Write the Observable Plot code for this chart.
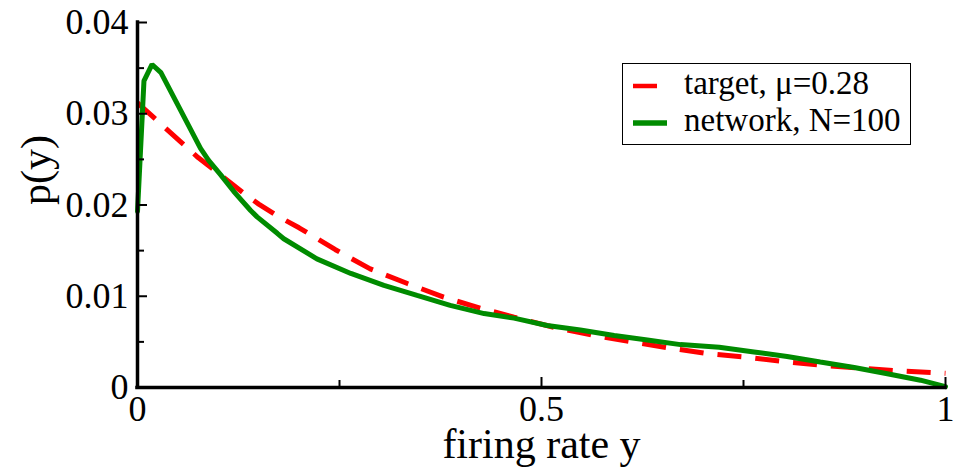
<!DOCTYPE html>
<html><head><meta charset="utf-8">
<script src="https://cdn.jsdelivr.net/npm/d3@7"></script>
<script src="https://cdn.jsdelivr.net/npm/@observablehq/plot@0.6"></script>
<style>
body{margin:0;background:#fff;}
#wrap{position:relative;width:963px;height:469px;font-family:"Liberation Serif",serif;}
#legend{position:absolute;left:622px;top:63px;width:287px;height:80px;border:1.5px solid #000;background:#fff;}
.lg-row{position:absolute;left:0;height:40px;width:287px;}
.lg-row svg{position:absolute;left:0;top:0;}
.lg-row span{position:absolute;left:61px;font-size:33px;line-height:33px;white-space:nowrap;color:#000;}
</style></head><body><div id="wrap"></div>
<script>
// ---- data ----
const targetX = [0, 0.02, 0.05, 0.075, 0.1, 0.134, 0.15, 0.175, 0.2, 0.245, 0.288, 0.334, 0.379, 0.424, 0.466, 0.515, 0.565, 0.612, 0.66, 0.707, 0.755, 0.804, 0.851, 0.899, 0.946, 1.0];
const targetY = [0.0312, 0.0296, 0.0272, 0.0252, 0.0235, 0.0211, 0.0201, 0.0187, 0.0175, 0.0151, 0.0130, 0.0114, 0.0099, 0.0087, 0.0077, 0.0066, 0.0057, 0.0050, 0.0043, 0.0037, 0.0033, 0.0028, 0.0024, 0.0021, 0.0018, 0.00155];
const networkX = [0, 0.008, 0.018, 0.029, 0.078, 0.088, 0.103, 0.119, 0.14, 0.148, 0.173, 0.181, 0.222, 0.264, 0.305, 0.346, 0.387, 0.429, 0.466, 0.507, 0.548, 0.59, 0.631, 0.672, 0.72, 0.763, 0.804, 0.845, 0.887, 0.928, 0.969, 1.0];
const networkY = [0.0193, 0.0336, 0.0354, 0.0345, 0.0262, 0.0249, 0.0233, 0.0215, 0.0194, 0.0187, 0.0169, 0.0163, 0.0141, 0.0125, 0.0112, 0.0101, 0.0090, 0.0081, 0.0076, 0.0068, 0.0063, 0.0057, 0.0052, 0.0047, 0.0044, 0.0039, 0.0034, 0.0028, 0.0022, 0.0015, 0.0008, 0.0001];
const seriesNames = ["target, \u03bc=0.28", "network, N=100"];
const seriesColors = ["#ff0000", "#008b00"];
const xTicks = [0, 0.5, 1];
const xTickLabels = ["0", "0.5", "1"];
const xMinor = [0.25, 0.75];
const yTicks = [0, 0.01, 0.02, 0.03, 0.04];
const yTickLabels = ["0", "0.01", "0.02", "0.03", "0.04"];
const yMinor = [0.005, 0.015, 0.025, 0.035];
const xTitle = "firing rate y";
const yTitle = "p(y)";

const target = targetX.map((x, i) => ({x, y: targetY[i]}));
const network = networkX.map((x, i) => ({x, y: networkY[i]}));
const xFmt = d => xTickLabels[xTicks.indexOf(d)];
const yFmt = d => yTickLabels[yTicks.indexOf(d)];

const chart = Plot.plot({
  width: 963, height: 469,
  marginLeft: 137, marginRight: 18, marginTop: 22, marginBottom: 82,
  style: {fontFamily: "'Liberation Serif', serif", fontSize: "36px", background: "#fff", color: "#000", overflow: "visible"},
  x: {domain: [0, 1]},
  y: {domain: [0, 0.04]},
  marks: [
    Plot.line(target, {x: "x", y: "y", stroke: seriesColors[0], strokeWidth: 5, strokeDasharray: "24,14", strokeLinecap: "butt", strokeLinejoin: "miter"}),
    Plot.line(network, {x: "x", y: "y", stroke: seriesColors[1], strokeWidth: 5, strokeLinejoin: "miter"}),
    Plot.axisX(xTicks, {tickSize: 0, tickPadding: 8, tickFormat: xFmt, fontSize: 36, label: null}),
    Plot.axisX(xTicks, {tickSize: -10, tickFormat: () => "", label: null, strokeWidth: 2}),
    Plot.axisX(xMinor, {tickSize: -7, tickFormat: () => "", label: null, strokeWidth: 2}),
    Plot.axisY(yTicks, {tickSize: 0, tickPadding: 9, tickFormat: yFmt, fontSize: 36, label: null}),
    Plot.axisY(yTicks, {tickSize: -10, tickFormat: () => "", label: null, strokeWidth: 2}),
    Plot.axisY(yMinor, {tickSize: -7, tickFormat: () => "", label: null, strokeWidth: 2}),
    Plot.ruleX([0], {stroke: "#000", strokeWidth: 3.5, strokeLinecap: "square"}),
    Plot.ruleY([0], {stroke: "#000", strokeWidth: 3.5, strokeLinecap: "square"}),
    Plot.text([xTitle], {text: d => d, frameAnchor: "bottom", lineAnchor: "middle", dy: 57, fontSize: 42}),
    Plot.text([yTitle], {text: d => d, frameAnchor: "left", lineAnchor: "middle", rotate: -90, dx: -101, fontSize: 42})
  ]
});

const wrap = document.getElementById("wrap");
wrap.appendChild(chart);

// legend
const legend = document.createElement("div");
legend.id = "legend";
const rows = [{y: 22, dash: "24,14", w: 4.5}, {y: 59, dash: null, w: 5.5}];
seriesNames.forEach((name, i) => {
  const row = document.createElement("div");
  row.className = "lg-row";
  row.style.top = "0px";
  const svg = d3.create("svg").attr("width", 60).attr("height", 80);
  svg.append("line").attr("x1", 10).attr("x2", 44).attr("y1", rows[i].y).attr("y2", rows[i].y)
    .attr("stroke", seriesColors[i]).attr("stroke-width", rows[i].w)
    .attr("stroke-dasharray", rows[i].dash);
  row.appendChild(svg.node());
  const span = document.createElement("span");
  span.textContent = name;
  span.style.top = (rows[i].y - 19) + "px";
  row.appendChild(span);
  legend.appendChild(row);
});
wrap.appendChild(legend);
</script>
</body></html>
